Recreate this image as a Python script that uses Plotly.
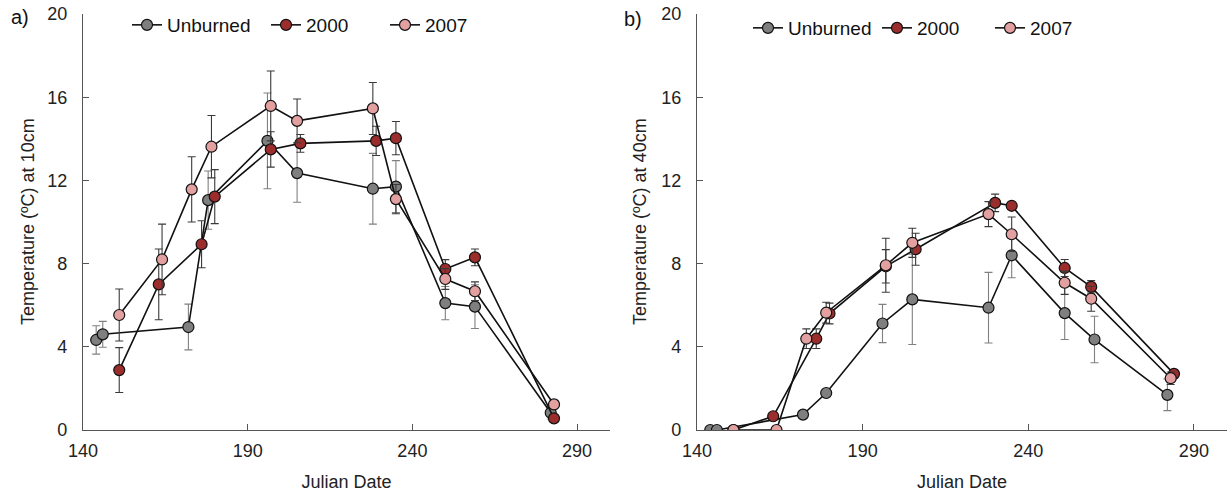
import plotly.graph_objects as go

# Soil temperature at 10 cm (panel a)
a_unb_x = [144, 146, 172, 178, 196, 205, 228, 235, 250, 259, 282]
a_unb_y = [4.33, 4.6, 4.95, 11.05, 13.9, 12.35, 11.6, 11.7, 6.1, 5.93, 0.83]
a_unb_e = [0.68, 0.62, 1.1, 1.4, 2.3, 1.4, 1.7, 1.25, 0.8, 1.05, 0.3]

a_00_x = [151, 163, 176, 180, 197, 206, 229, 235, 250, 259, 283]
a_00_y = [2.88, 7.0, 8.93, 11.22, 13.49, 13.78, 13.9, 14.03, 7.74, 8.3, 0.56]
a_00_e = [1.08, 1.7, 1.13, 1.3, 0.85, 0.43, 0.7, 0.8, 0.45, 0.4, 0.15]

a_07_x = [151, 164, 173, 179, 197, 205, 228, 235, 250, 259, 283]
a_07_y = [5.53, 8.2, 11.57, 13.62, 15.58, 14.86, 15.46, 11.1, 7.26, 6.67, 1.23]
a_07_e = [1.25, 1.7, 1.57, 1.5, 1.68, 1.05, 1.25, 0.7, 0.5, 0.45, 0.2]

# Soil temperature at 40 cm (panel b)
b_unb_x = [144, 146, 172, 179, 196, 205, 228, 235, 251, 260, 282]
b_unb_y = [0, 0, 0.74, 1.78, 5.12, 6.28, 5.88, 8.4, 5.62, 4.35, 1.69]
b_unb_e = [0, 0, 0, 0, 0.92, 2.17, 1.7, 1.08, 1.27, 1.12, 0.76]

b_00_x = [151, 163, 176, 180, 197, 206, 230, 235, 251, 259, 284]
b_00_y = [0, 0.66, 4.39, 5.6, 7.87, 8.69, 10.92, 10.78, 7.79, 6.88, 2.7]
b_00_e = [0, 0, 0.47, 0.5, 0.8, 0.77, 0.42, 0, 0.41, 0.3, 0.2]

b_07_x = [151, 164, 173, 179, 197, 205, 228, 235, 251, 259, 283]
b_07_y = [0, 0, 4.39, 5.64, 7.92, 9.0, 10.38, 9.41, 7.08, 6.31, 2.49]
b_07_e = [0, 0, 0.47, 0.5, 1.3, 0.7, 0.6, 0.83, 0.56, 0.6, 0.3]

series_names = ["Unburned", "2000", "2007"]
fill_colors = ["#7f7f7f", "#9b2d2d", "#e3a0a0"]
bar_colors = ["#808080", "#3a3a3a", "#3a3a3a"]

x_ticks = [140, 190, 240, 290]
y_ticks = [0, 4, 8, 12, 16, 20]
y_titles = ["Temperature (ºC) at 10cm", "Temperature (ºC) at 40cm"]
panel_tags = ["a)", "b)"]

FONT = "Liberation Sans, Arial, sans-serif"
W, H = 1229, 496

fig = go.Figure()

# each legend entry gets its own legend box so it can be placed freely
panels = [
    ("x", "y", ["legend2", "legend3", "legend4"],
     [(a_unb_x, a_unb_y, a_unb_e), (a_00_x, a_00_y, a_00_e), (a_07_x, a_07_y, a_07_e)]),
    ("x2", "y2", ["legend5", "legend6", "legend7"],
     [(b_unb_x, b_unb_y, b_unb_e), (b_00_x, b_00_y, b_00_e), (b_07_x, b_07_y, b_07_e)]),
]

for xa, ya, legs, data in panels:
    for i, (xs, ys, es) in enumerate(data):
        fig.add_trace(go.Scatter(
            x=xs, y=ys, xaxis=xa, yaxis=ya, legend=legs[i],
            name=series_names[i], mode="lines+markers",
            line=dict(color="#111111", width=1.6),
            marker=dict(size=11, color=fill_colors[i], line=dict(color="#111111", width=1.2)),
            error_y=dict(type="data", array=es, visible=True, color=bar_colors[i],
                         thickness=1.1, width=4),
        ))

axis_common = dict(
    showgrid=False, zeroline=False, showline=True, linecolor="#555555", linewidth=1.2,
    ticks="inside", ticklen=6, tickcolor="#555555", automargin=False,
    tickfont=dict(family=FONT, size=18, color="#222222"),
)
x_common = dict(range=[140, 300], tickvals=x_ticks, ticklabelstandoff=4,
                title=dict(text="Julian Date", font=dict(size=18), standoff=15), **axis_common)
y_common = dict(domain=[0, 1], range=[0, 20], tickvals=y_ticks, ticklabelstandoff=11, **axis_common)


def legend_box(left_px, center_px):
    return dict(xref="container", yref="container", x=left_px / W, y=1 - center_px / H,
                xanchor="left", yanchor="middle", font=dict(family=FONT, size=19, color="#111111"),
                bgcolor="rgba(0,0,0,0)", itemwidth=30)


def side_label(text, center_px):
    # rotated y-axis caption placed beside the tick labels
    return dict(text=text, xref="paper", yref="paper", x=center_px / W, y=0.5,
                xanchor="center", yanchor="middle", textangle=-90, showarrow=False,
                font=dict(family=FONT, size=18, color="#222222"))


def tag_label(text, left_px, center_px):
    return dict(text=text, xref="paper", yref="paper", x=left_px / W, y=1 - (center_px - 14) / 416,
                xanchor="left", yanchor="middle", showarrow=False,
                font=dict(family=FONT, size=20, color="#111111"))


fig.update_layout(
    width=W, height=H,
    margin=dict(l=0, r=0, t=14, b=66, autoexpand=False),
    plot_bgcolor="white", paper_bgcolor="white",
    font=dict(family=FONT, color="#222222"),
    xaxis=dict(domain=[83 / W, 610 / W], anchor="y", **x_common),
    yaxis=dict(anchor="x", **y_common),
    xaxis2=dict(domain=[697 / W, 1227 / W], anchor="y2", **x_common),
    yaxis2=dict(anchor="x2", **y_common),
    legend2=legend_box(127, 25),
    legend3=legend_box(266, 25),
    legend4=legend_box(385, 25),
    legend5=legend_box(748, 28),
    legend6=legend_box(877, 28),
    legend7=legend_box(990, 28),
    annotations=[
        side_label(y_titles[0], 28),
        side_label(y_titles[1], 640),
        tag_label(panel_tags[0], 9, 17),
        tag_label(panel_tags[1], 622, 19),
    ],
)

fig.write_html("out.html")
